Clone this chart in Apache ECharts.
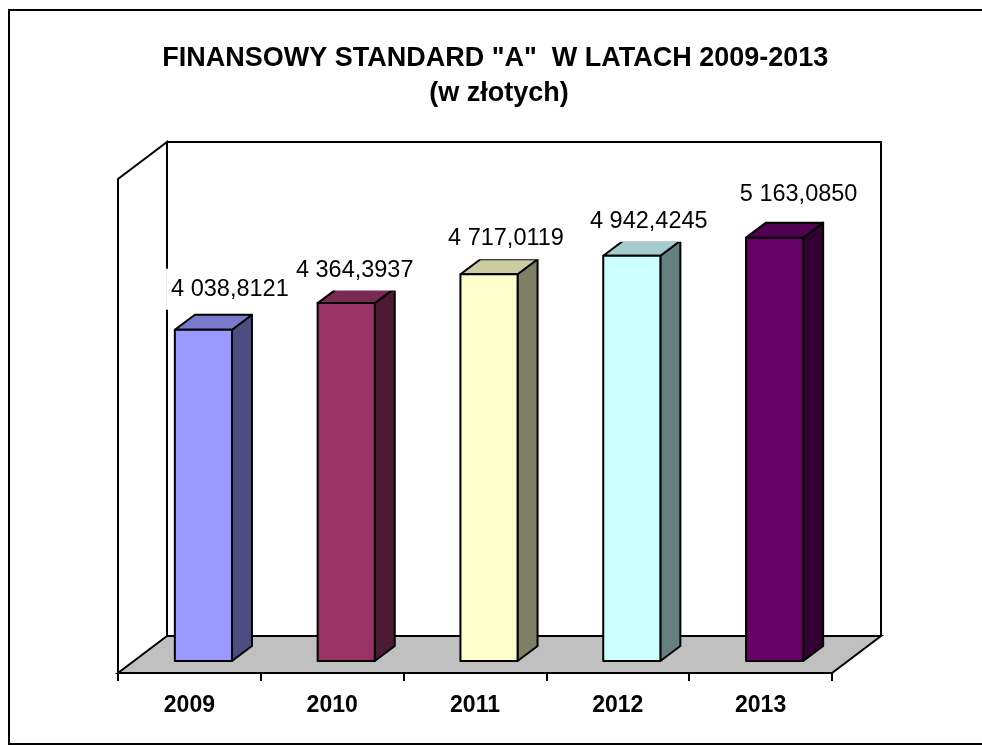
<!DOCTYPE html>
<html><head><meta charset="utf-8">
<style>html,body{margin:0;padding:0;background:#fff}#c{width:982px;height:745px}</style>
<script src="https://cdn.jsdelivr.net/npm/echarts@6/dist/echarts.min.js"></script>
</head><body><div id="c"></div>
<script>
const years = ['2009','2010','2011','2012','2013'];
const values = [4038.8121, 4364.3937, 4717.0119, 4942.4245, 5163.0850];
const faceColors = ['#9999FF','#993366','#FFFFCC','#CCFFFF','#660066'];
const topColors = ['#7A7ACC','#7A2952','#CCCCA3','#A3CCCC','#520052'];
const sideColors = ['#4D4D80','#4D1A33','#808066','#668080','#330033'];
const labelDx = [26.5, 8.5, 17, 17, 24];
const labelDy = [-40.5, -33, -35.5, -34.5, -43];
const titleText = 'FINANSOWY STANDARD "A"  W LATACH 2009-2013 \n(w złotych)';

const FONT = '"Liberation Sans", Arial, sans-serif';
const G = {left:118, right:832, top:181, bottom:673};
const WALL = {x0:118, x1:167, xr:881, yb:673, yf:636, ytf:179, ytb:142};
const BAR = {dx:14, dy:-12, depthX:20, depthY:-15, ratio:0.4};
const LW = 2;

function fmt(v){
  const s = v.toFixed(4).split('.');
  return s[0].replace(/\B(?=(\d{3})+$)/g,' ') + ',' + s[1];
}
function renderBar(params, api){
  const i = api.value(0), v = api.value(1);
  const top = api.coord([i, v]), base = api.coord([i, 0]);
  const w = api.size([1,0])[0] * BAR.ratio;
  const l = top[0] + BAR.dx - w/2, r = l + w;
  const t = top[1] + BAR.dy, b = base[1] + BAR.dy;
  const dx = BAR.depthX, dy = BAR.depthY;
  const line = {stroke:'#000', lineWidth:LW, lineJoin:'round'};
  return {type:'group', children:[
    {type:'polygon', z2:2, shape:{points:[[r,t],[r+dx,t+dy],[r+dx,b+dy],[r,b]]},
      style:Object.assign({fill:sideColors[i]},line)},
    {type:'polygon', z2:2, shape:{points:[[l,t],[l+dx,t+dy],[r+dx,t+dy],[r,t]]},
      style:Object.assign({fill:topColors[i]},line)},
    {type:'rect', z2:3, shape:{x:l,y:t,width:w,height:b-t},
      style:Object.assign({fill:faceColors[i]},line)},
    {type:'text', z2:4, style:{
      x:top[0]+BAR.dx+labelDx[i], y:t+labelDy[i], text:fmt(v), align:'center', verticalAlign:'middle',
      font:'23.5px '+FONT, fill:'#000',
      backgroundColor:'#fff', padding:[9,5,8,5]}}
  ]};
}
const chart = echarts.init(document.getElementById('c'), null, {renderer:'canvas'});
chart.setOption({
  animation:false,
  backgroundColor:'#fff',
  title:{show:true, text:titleText, left:494, top:36, textAlign:'center',
    textStyle:{fontFamily:FONT, fontWeight:'bold', fontSize:27, lineHeight:35, color:'#000'}},
  graphic:[
    {type:'polyline', z:0, shape:{points:[[982,10],[9,10],[9,744],[982,744]]},
      style:{fill:null, stroke:'#000', lineWidth:2}},
    {type:'polygon', z:0, shape:{points:[[WALL.x0,WALL.yb],[WALL.x1,WALL.yf],[WALL.xr,WALL.yf],[G.right,WALL.yb]]},
      style:{fill:'#C0C0C0', stroke:'#000', lineWidth:LW}},
    {type:'polyline', z:0, shape:{points:[[WALL.x0,WALL.yb],[WALL.x0,WALL.ytf],[WALL.x1,WALL.ytb],[WALL.x1,WALL.yf]]},
      style:{fill:null, stroke:'#000', lineWidth:LW}},
    {type:'polyline', z:0, shape:{points:[[WALL.x1,WALL.ytb],[WALL.xr,WALL.ytb],[WALL.xr,WALL.yf]]},
      style:{fill:null, stroke:'#000', lineWidth:LW}}
  ],
  grid:{left:G.left, right:982-G.right, top:G.top, bottom:745-G.bottom, containLabel:false},
  xAxis:{type:'category', data:years, boundaryGap:true,
    axisLine:{show:true, lineStyle:{color:'#000', width:2}},
    axisTick:{show:true, length:8, alignWithLabel:false, lineStyle:{color:'#000', width:2}},
    axisLabel:{fontFamily:FONT, fontWeight:'bold', fontSize:23, color:'#000', margin:21, interval:0},
    splitLine:{show:false}},
  yAxis:{type:'value', min:0, max:6000, interval:1000, show:false, splitLine:{show:false}},
  series:[{type:'custom', renderItem:renderBar, data:years.map((_,i)=>[i,values[i]]),
    encode:{x:0,y:1}, clip:false, silent:true}]
});
</script></body></html>
